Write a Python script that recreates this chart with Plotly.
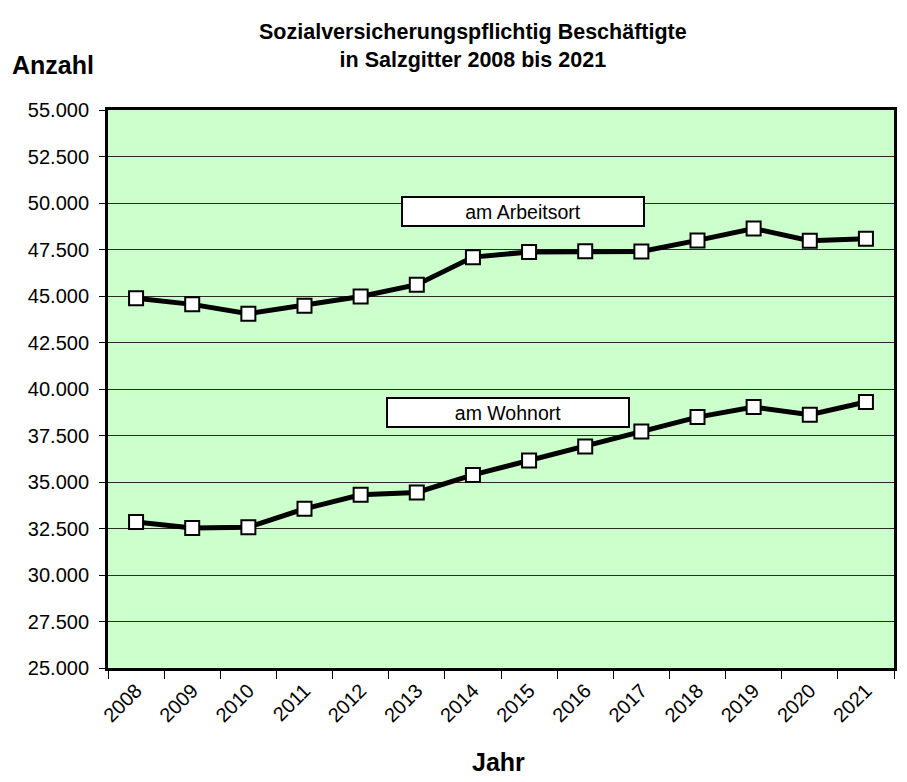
import plotly.graph_objects as go

# Jahre und Beschäftigtenzahlen
jahre = ["2008", "2009", "2010", "2011", "2012", "2013", "2014",
         "2015", "2016", "2017", "2018", "2019", "2020", "2021"]
am_arbeitsort = [44880, 44550, 44050, 44480, 44970, 45610, 47090,
                 47370, 47400, 47390, 47990, 48630, 47970, 48080]
am_wohnort = [32850, 32530, 32570, 33560, 34310, 34440, 35380,
              36150, 36910, 37720, 38490, 39030, 38620, 39300]

y_ticks = list(range(25000, 55001, 2500))

FONT = "Liberation Sans, Arial, sans-serif"

fig = go.Figure()

for name, werte in (("am Arbeitsort", am_arbeitsort), ("am Wohnort", am_wohnort)):
    fig.add_trace(go.Scatter(
        x=jahre, y=werte, name=name, mode="lines+markers",
        line=dict(color="black", width=5),
        marker=dict(symbol="square", size=14, color="white",
                    line=dict(color="black", width=2)),
        showlegend=False,
    ))

# Beschriftungsfelder der beiden Reihen
for text, xpos, ypos in (("am Arbeitsort", 6.90, 49570), ("am Wohnort", 6.63, 38710)):
    fig.add_annotation(
        x=xpos, y=ypos, xref="x", yref="y", text=text, showarrow=False,
        font=dict(family=FONT, size=19.5, color="black"),
        bgcolor="white", bordercolor="black", borderwidth=2, borderpad=1,
        width=238, height=25, align="center",
    )

# Diagrammtitel
fig.add_annotation(
    x=0.464, y=1.115, xref="paper", yref="paper",
    text="<b>Sozialversicherungspflichtig Beschäftigte<br>in Salzgitter 2008 bis 2021</b>",
    showarrow=False, xanchor="center", yanchor="middle", align="center",
    font=dict(family=FONT, size=21.5, color="black"),
)

# Achsentitel
fig.add_annotation(
    x=-0.125, y=1.081, xref="paper", yref="paper", text="<b>Anzahl</b>",
    showarrow=False, xanchor="left", yanchor="middle",
    font=dict(family=FONT, size=25, color="black"),
)
fig.add_annotation(
    x=0.497, y=-0.168, xref="paper", yref="paper", text="<b>Jahr</b>",
    showarrow=False, xanchor="center", yanchor="middle",
    font=dict(family=FONT, size=25, color="black"),
)

fig.update_layout(
    width=907, height=782,
    margin=dict(l=108, r=10, t=110, b=114),
    paper_bgcolor="white",
    plot_bgcolor="#CCFFCC",
    separators=",.",
    font=dict(family=FONT, color="black"),
    xaxis=dict(
        type="category", range=[-0.5, 13.5],
        tickangle=-45, tickfont=dict(family=FONT, size=20, color="black"),
        ticks="outside", ticklen=8, tickwidth=1, tickcolor="black",
        tickson="boundaries",
        showline=True, linecolor="black", linewidth=3, mirror=True,
        showgrid=False, zeroline=False,
    ),
    yaxis=dict(
        range=[25000, 55000], tickvals=y_ticks, tickformat=",d",
        tickfont=dict(family=FONT, size=20, color="black"),
        ticks="outside", ticklen=6, tickwidth=1, tickcolor="black",
        ticklabelstandoff=6,
        showline=True, linecolor="black", linewidth=3, mirror=True,
        showgrid=True, gridcolor="#2a2a2a", gridwidth=1, zeroline=False,
    ),
)

fig.write_html("out.html")
